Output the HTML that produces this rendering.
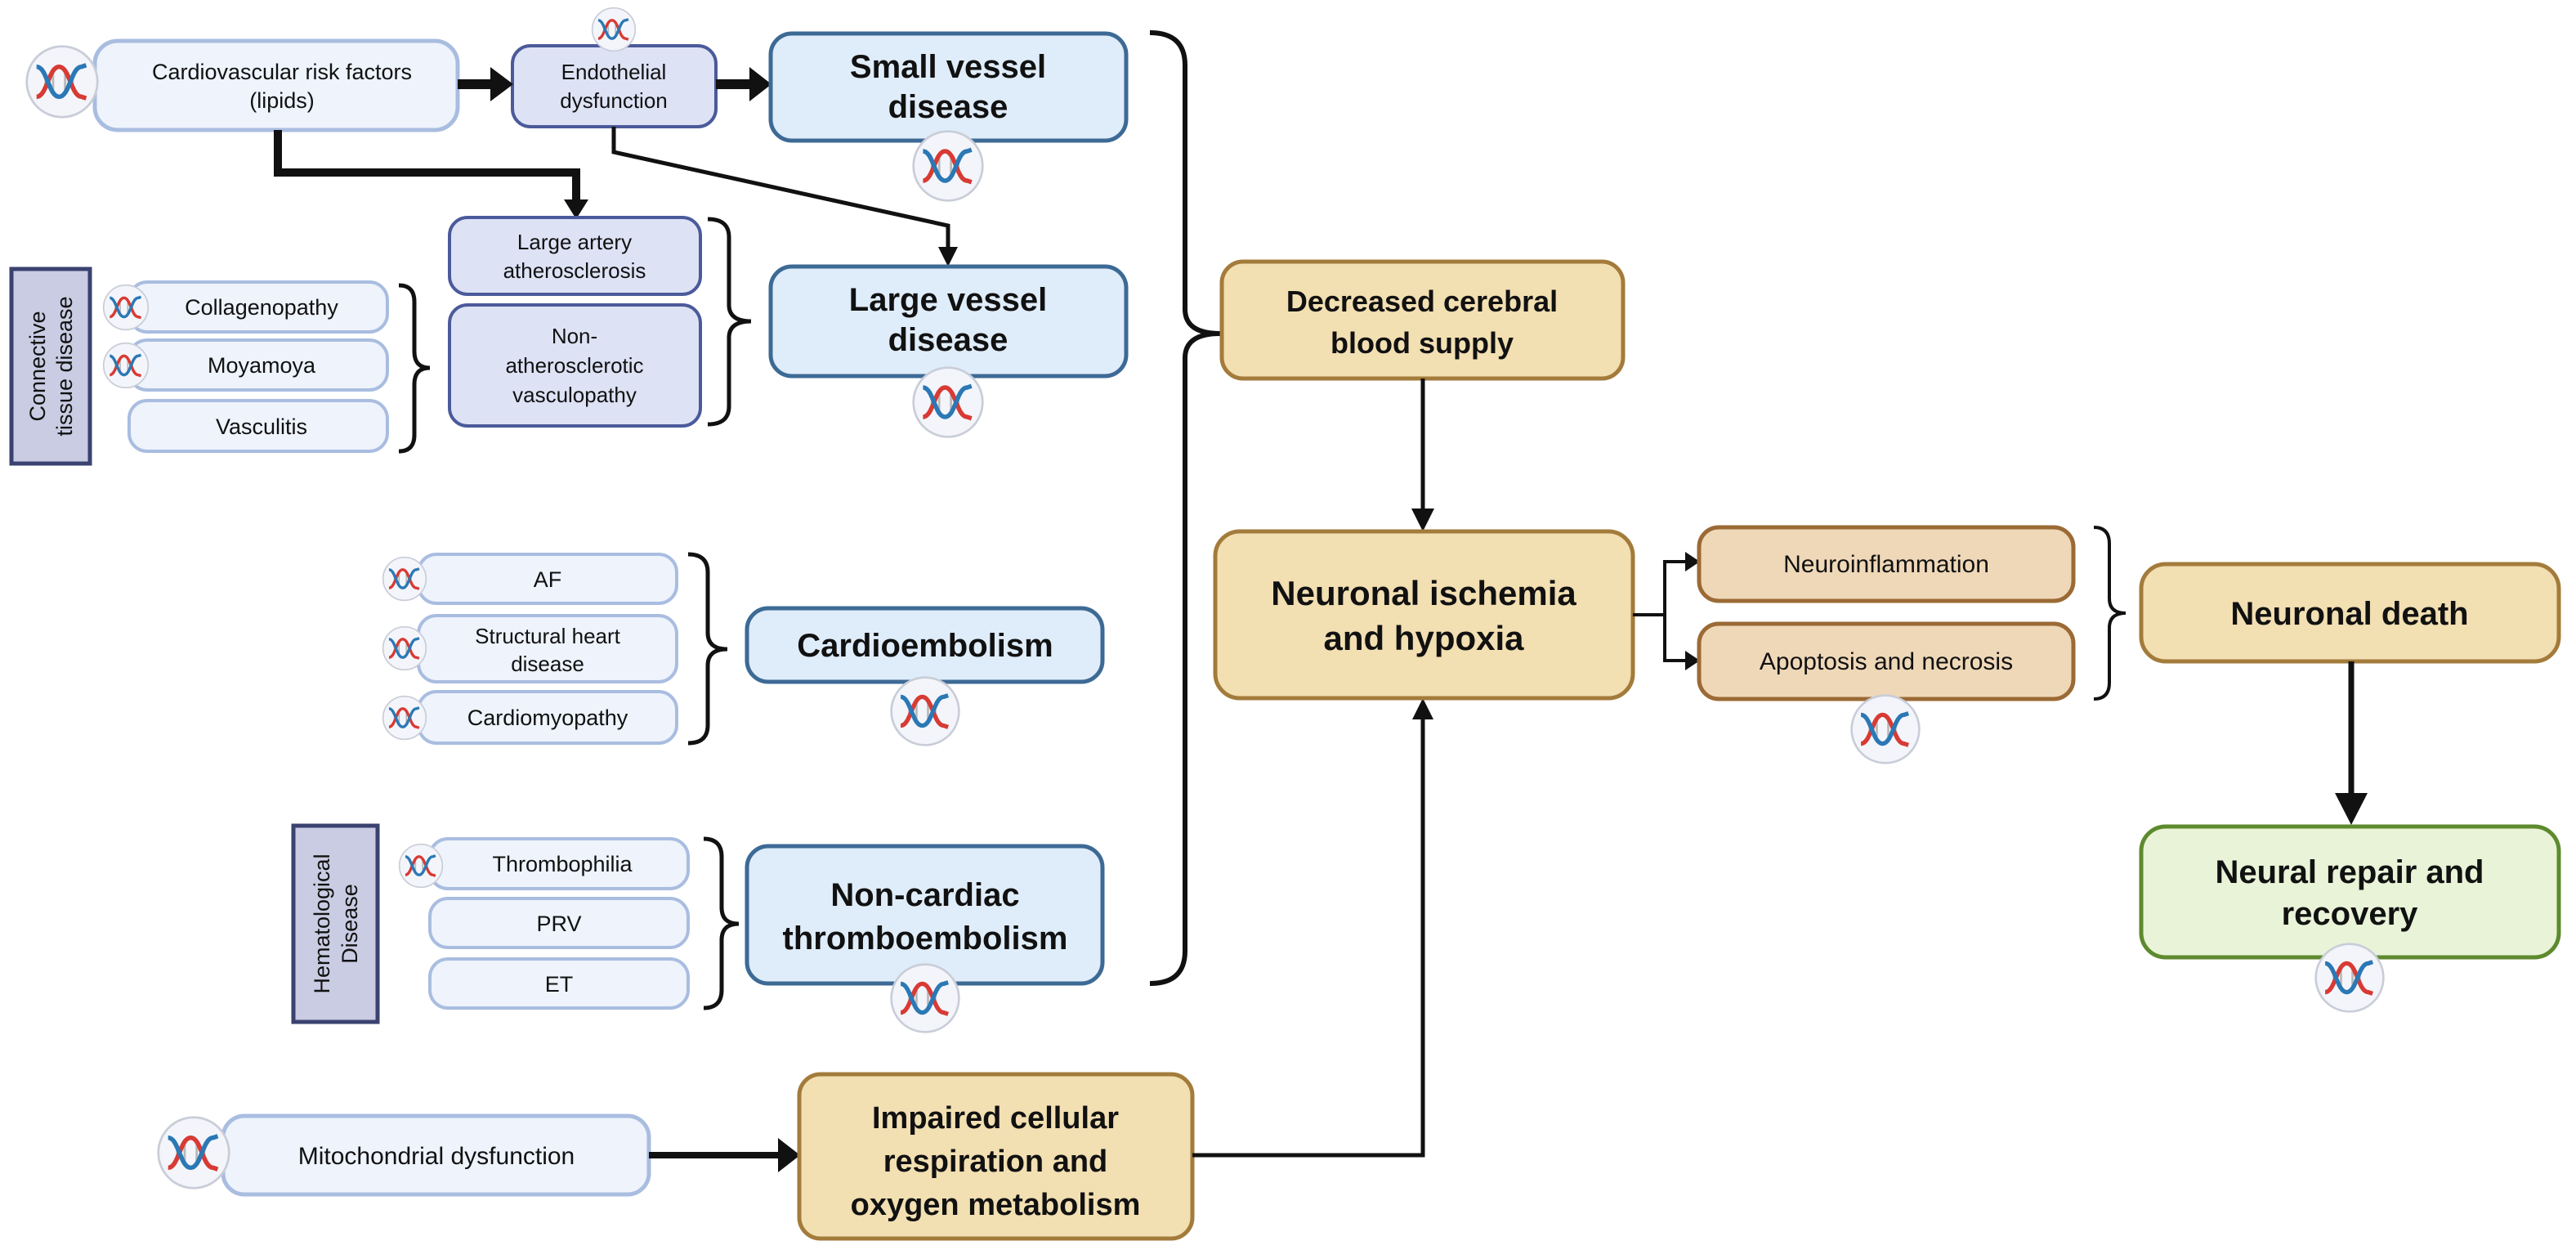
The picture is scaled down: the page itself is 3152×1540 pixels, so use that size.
<!DOCTYPE html>
<html><head><meta charset="utf-8"><style>
html,body{margin:0;padding:0;background:#fff;}
svg{display:block;}
text{font-family:"Liberation Sans",Arial,sans-serif;fill:#111;text-anchor:middle;}
.b{font-weight:bold;}
</style></head><body>
<svg width="3152" height="1540" viewBox="0 0 3152 1540" xmlns="http://www.w3.org/2000/svg">
<defs>
<symbol id="dna" viewBox="-50 -50 100 100">
<circle cx="0" cy="0" r="47" fill="#f3f5fa" stroke="#c9cdd8" stroke-width="3"/>
<g stroke="#b8b8b8" stroke-width="3"><line x1="-22" y1="-10" x2="-22" y2="10"/><line x1="-12" y1="-14" x2="-12" y2="14"/><line x1="4" y1="-14" x2="4" y2="14"/><line x1="14" y1="-10" x2="14" y2="10"/></g>
<path d="M-34,20 C-20,20 -18,-20 -4,-20 C10,-20 12,20 26,20 L32,22" fill="none" stroke="#d83a34" stroke-width="6"/>
<path d="M-34,-20 C-20,-20 -18,20 -4,20 C10,20 12,-20 26,-20 L32,-22" fill="none" stroke="#2b78b5" stroke-width="6"/>
</symbol>
</defs>

<!-- Cardiovascular -->
<rect x="116" y="50" width="444" height="109" rx="28" fill="#eef3fc" stroke="#a9bde0" stroke-width="5"/>
<text x="345" y="97" font-size="27">Cardiovascular risk factors</text>
<text x="345" y="132" font-size="27">(lipids)</text>
<use href="#dna" x="30" y="54" width="92" height="92"/>

<!-- Endothelial -->
<rect x="627" y="56" width="249" height="99" rx="22" fill="#dde2f5" stroke="#4b5a9a" stroke-width="4"/>
<text x="751" y="97" font-size="26">Endothelial</text>
<text x="751" y="132" font-size="26">dysfunction</text>
<use href="#dna" x="723" y="8" width="56" height="56"/>

<line x1="560" y1="103" x2="605" y2="103" stroke="#111" stroke-width="12"/>
<polygon points="600,82 628,103 600,124" fill="#111"/>
<line x1="876" y1="103" x2="922" y2="103" stroke="#111" stroke-width="12"/>
<polygon points="917,82 944,103 917,124" fill="#111"/>

<!-- Small vessel -->
<rect x="943" y="41" width="435" height="131" rx="26" fill="#dfecf9" stroke="#3d6a95" stroke-width="5"/>
<text class="b" x="1160" y="95" font-size="40">Small vessel</text>
<text class="b" x="1160" y="144" font-size="40">disease</text>
<use href="#dna" x="1115" y="158" width="90" height="90"/>

<!-- connectors -->
<polyline points="340,159 340,211 705,211 705,250" fill="none" stroke="#111" stroke-width="10"/>
<polygon points="690,244 720,244 705,268" fill="#111"/>
<polyline points="751,155 751,186 1160,276 1160,305" fill="none" stroke="#111" stroke-width="5"/>
<polygon points="1148,302 1172,302 1160,326" fill="#111"/>

<!-- Large artery / non-athero -->
<rect x="550" y="266" width="307" height="94" rx="22" fill="#dde2f5" stroke="#4b5a9a" stroke-width="4"/>
<text x="703" y="305" font-size="26">Large artery</text>
<text x="703" y="340" font-size="26">atherosclerosis</text>
<rect x="550" y="373" width="307" height="148" rx="22" fill="#dde2f5" stroke="#4b5a9a" stroke-width="4"/>
<text x="703" y="420" font-size="26">Non-</text>
<text x="703" y="456" font-size="26">atherosclerotic</text>
<text x="703" y="492" font-size="26">vasculopathy</text>
<path d="M866,268 Q892,268 892,290 L892,373 Q892,393 919,393 Q892,393 892,413 L892,497 Q892,519 866,519" fill="none" stroke="#111" stroke-width="5"/>

<!-- Large vessel -->
<rect x="943" y="326" width="435" height="134" rx="26" fill="#dfecf9" stroke="#3d6a95" stroke-width="5"/>
<text class="b" x="1160" y="380" font-size="40">Large vessel</text>
<text class="b" x="1160" y="429" font-size="40">disease</text>
<use href="#dna" x="1115" y="447" width="90" height="90"/>

<!-- Connective tissue -->
<rect x="14" y="329" width="96" height="238" fill="#c9cce2" stroke="#3a4270" stroke-width="5"/>
<text transform="translate(55,448) rotate(-90)" font-size="27">Connective</text>
<text transform="translate(88,448) rotate(-90)" font-size="27">tissue disease</text>

<rect x="158" y="345" width="316" height="61" rx="22" fill="#eef3fc" stroke="#a9bde0" stroke-width="4"/>
<text x="320" y="385" font-size="27">Collagenopathy</text>
<use href="#dna" x="125" y="347" width="58" height="58"/>
<rect x="158" y="416" width="316" height="61" rx="22" fill="#eef3fc" stroke="#a9bde0" stroke-width="4"/>
<text x="320" y="456" font-size="27">Moyamoya</text>
<use href="#dna" x="125" y="418" width="58" height="58"/>
<rect x="158" y="490" width="316" height="62" rx="22" fill="#eef3fc" stroke="#a9bde0" stroke-width="4"/>
<text x="320" y="531" font-size="27">Vasculitis</text>
<path d="M488,349 Q507,349 507,369 L507,430 Q507,450 526,450 Q507,450 507,470 L507,532 Q507,552 488,552" fill="none" stroke="#111" stroke-width="5"/>

<!-- Big brace -->
<path d="M1407,40 Q1450,40 1450,80 L1450,378 Q1450,408 1493,408 Q1450,408 1450,438 L1450,1163 Q1450,1203 1407,1203" fill="none" stroke="#111" stroke-width="6"/>

<!-- Cardio group -->
<rect x="512" y="678" width="316" height="60" rx="22" fill="#eef3fc" stroke="#a9bde0" stroke-width="4"/>
<text x="670" y="718" font-size="27">AF</text>
<use href="#dna" x="467" y="680" width="56" height="56"/>
<rect x="512" y="753" width="316" height="81" rx="22" fill="#eef3fc" stroke="#a9bde0" stroke-width="4"/>
<text x="670" y="787" font-size="26">Structural heart</text>
<text x="670" y="821" font-size="26">disease</text>
<use href="#dna" x="467" y="765" width="56" height="56"/>
<rect x="512" y="846" width="316" height="63" rx="22" fill="#eef3fc" stroke="#a9bde0" stroke-width="4"/>
<text x="670" y="887" font-size="27">Cardiomyopathy</text>
<use href="#dna" x="467" y="850" width="56" height="56"/>
<path d="M842,678 Q866,678 866,700 L866,774 Q866,794 890,794 Q866,794 866,814 L866,887 Q866,909 842,909" fill="none" stroke="#111" stroke-width="5"/>
<rect x="914" y="744" width="435" height="90" rx="26" fill="#dfecf9" stroke="#3d6a95" stroke-width="5"/>
<text class="b" x="1132" y="803" font-size="40">Cardioembolism</text>
<use href="#dna" x="1088" y="826" width="88" height="88"/>

<!-- Hematological -->
<rect x="359" y="1010" width="103" height="240" fill="#c9cce2" stroke="#3a4270" stroke-width="5"/>
<text transform="translate(403,1130) rotate(-90)" font-size="27">Hematological</text>
<text transform="translate(437,1130) rotate(-90)" font-size="27">Disease</text>
<rect x="526" y="1026" width="316" height="61" rx="22" fill="#eef3fc" stroke="#a9bde0" stroke-width="4"/>
<text x="688" y="1066" font-size="27">Thrombophilia</text>
<use href="#dna" x="487" y="1031" width="56" height="56"/>
<rect x="526" y="1099" width="316" height="60" rx="22" fill="#eef3fc" stroke="#a9bde0" stroke-width="4"/>
<text x="684" y="1139" font-size="27">PRV</text>
<rect x="526" y="1173" width="316" height="60" rx="22" fill="#eef3fc" stroke="#a9bde0" stroke-width="4"/>
<text x="684" y="1213" font-size="27">ET</text>
<path d="M861,1026 Q883,1026 883,1048 L883,1110 Q883,1130 904,1130 Q883,1130 883,1150 L883,1211 Q883,1233 861,1233" fill="none" stroke="#111" stroke-width="5"/>
<rect x="914" y="1035" width="435" height="168" rx="26" fill="#dfecf9" stroke="#3d6a95" stroke-width="5"/>
<text class="b" x="1132" y="1108" font-size="40">Non-cardiac</text>
<text class="b" x="1132" y="1161" font-size="40">thromboembolism</text>
<use href="#dna" x="1088" y="1177" width="88" height="88"/>

<!-- Mitochondrial -->
<rect x="273" y="1365" width="521" height="96" rx="26" fill="#eef3fc" stroke="#a9bde0" stroke-width="5"/>
<text x="534" y="1424" font-size="30">Mitochondrial dysfunction</text>
<use href="#dna" x="191" y="1364" width="92" height="92"/>
<line x1="794" y1="1413" x2="955" y2="1413" stroke="#111" stroke-width="8"/>
<polygon points="952,1392 979,1413 952,1434" fill="#111"/>
<rect x="978" y="1314" width="481" height="201" rx="26" fill="#f2dfb2" stroke="#a37b3b" stroke-width="5"/>
<text class="b" x="1218" y="1380" font-size="38">Impaired cellular</text>
<text class="b" x="1218" y="1433" font-size="38">respiration and</text>
<text class="b" x="1218" y="1486" font-size="38">oxygen metabolism</text>
<polyline points="1459,1413 1741,1413 1741,878" fill="none" stroke="#111" stroke-width="5"/>
<polygon points="1728,880 1754,880 1741,854" fill="#111"/>

<!-- Decreased -->
<rect x="1495" y="320" width="491" height="143" rx="26" fill="#f2dfb2" stroke="#a37b3b" stroke-width="5"/>
<text class="b" x="1740" y="381" font-size="36">Decreased cerebral</text>
<text class="b" x="1740" y="432" font-size="36">blood supply</text>
<line x1="1741" y1="463" x2="1741" y2="626" stroke="#111" stroke-width="5"/>
<polygon points="1727,622 1755,622 1741,650" fill="#111"/>

<!-- Neuronal ischemia -->
<rect x="1487" y="650" width="511" height="204" rx="30" fill="#f2dfb2" stroke="#a37b3b" stroke-width="5"/>
<text class="b" x="1742" y="740" font-size="42">Neuronal ischemia</text>
<text class="b" x="1742" y="795" font-size="42">and hypoxia</text>
<polyline points="1998,752 2037,752" fill="none" stroke="#111" stroke-width="4"/>
<polyline points="2064,687 2037,687 2037,808 2064,808" fill="none" stroke="#111" stroke-width="4"/>
<polygon points="2062,675 2080,687 2062,699" fill="#111"/>
<polygon points="2062,796 2080,808 2062,820" fill="#111"/>
<rect x="2079" y="645" width="458" height="90" rx="24" fill="#efd8b8" stroke="#9b6a35" stroke-width="5"/>
<text x="2308" y="700" font-size="30">Neuroinflammation</text>
<rect x="2079" y="763" width="458" height="92" rx="24" fill="#efd8b8" stroke="#9b6a35" stroke-width="5"/>
<text x="2308" y="819" font-size="30">Apoptosis and necrosis</text>
<use href="#dna" x="2263" y="848" width="88" height="88"/>
<path d="M2562,645 Q2581,645 2581,665 L2581,732 Q2581,750 2601,750 Q2581,750 2581,768 L2581,835 Q2581,855 2562,855" fill="none" stroke="#111" stroke-width="4"/>

<!-- Neuronal death -->
<rect x="2620" y="690" width="511" height="119" rx="30" fill="#f2dfb2" stroke="#a37b3b" stroke-width="5"/>
<text class="b" x="2875" y="764" font-size="40">Neuronal death</text>
<line x1="2877" y1="809" x2="2877" y2="975" stroke="#111" stroke-width="7"/>
<polygon points="2857,970 2897,970 2877,1009" fill="#111"/>

<!-- Neural repair -->
<rect x="2620" y="1011" width="511" height="160" rx="30" fill="#e8f3d8" stroke="#5e8a2e" stroke-width="5"/>
<text class="b" x="2875" y="1080" font-size="40">Neural repair and</text>
<text class="b" x="2875" y="1131" font-size="40">recovery</text>
<use href="#dna" x="2831" y="1152" width="88" height="88"/>
</svg>
</body></html>
